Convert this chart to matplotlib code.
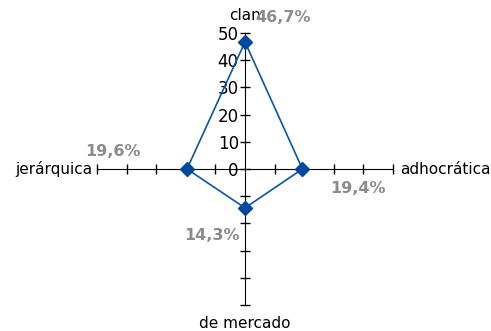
import matplotlib
matplotlib.use("Agg")
import matplotlib.pyplot as plt
import numpy as np

categories = ["clan", "adhocrática", "de mercado", "jerárquica"]
values = [46.7, 19.4, 14.3, 19.6]
labels = ["46,7%", "19,4%", "14,3%", "19,6%"]
ticks = [0, 10, 20, 30, 40, 50]

plt.rcParams['font.family'] = ['DejaVu Sans']

fig = plt.figure(figsize=(4.91, 3.31), dpi=100)
ax = fig.add_axes([97 / 491, 26 / 331, 296 / 491, 272 / 331])

# directions: up, right, down, left
dirs = [(0, 1), (1, 0), (0, -1), (-1, 0)]
xs = [v * d[0] for v, d in zip(values, dirs)]
ys = [v * d[1] for v, d in zip(values, dirs)]

ax.plot(xs + xs[:1], ys + ys[:1], color="#0A56A6", lw=1.2, zorder=3)
ax.plot(xs, ys, ls="none", marker="D", ms=7, color="#0047A0", zorder=4)

ax.set_xlim(-50, 50)
ax.set_ylim(-50, 50)
for s in ["top", "right"]:
    ax.spines[s].set_visible(False)
ax.spines["left"].set_position("zero")
ax.spines["bottom"].set_position("zero")
ax.spines["left"].set_color("black")
ax.spines["bottom"].set_color("black")

ax.set_yticks(range(-50, 51, 10))
ax.set_yticklabels([str(t) if t in ticks else "" for t in range(-50, 51, 10)])
ax.set_xticks([t for t in range(-50, 51, 10) if t != 0])
ax.set_xticklabels([])
ax.tick_params(axis="both", direction="inout", length=7, width=1, labelsize=12, pad=1)
ax.patch.set_alpha(0)

# category labels
fig.text(245 / 491, 1 - 16 / 331, categories[0], ha="center", va="center", fontsize=11)
fig.text(400 / 491, 1 - 169 / 331, categories[1], ha="left", va="center", fontsize=11)
fig.text(245 / 491, 1 - 323 / 331, categories[2], ha="center", va="center", fontsize=11)
fig.text(92 / 491, 1 - 169 / 331, categories[3], ha="right", va="center", fontsize=11)

# data labels
lab_pos = [(283, 18), (358, 188), (212, 235), (113, 152)]
for txt, (px, py) in zip(labels, lab_pos):
    fig.text(px / 491, 1 - py / 331, txt, ha="center", va="center",
             fontsize=11.5, fontweight="bold", color="#8C8C8C")

fig.savefig("out.png", dpi=100)
